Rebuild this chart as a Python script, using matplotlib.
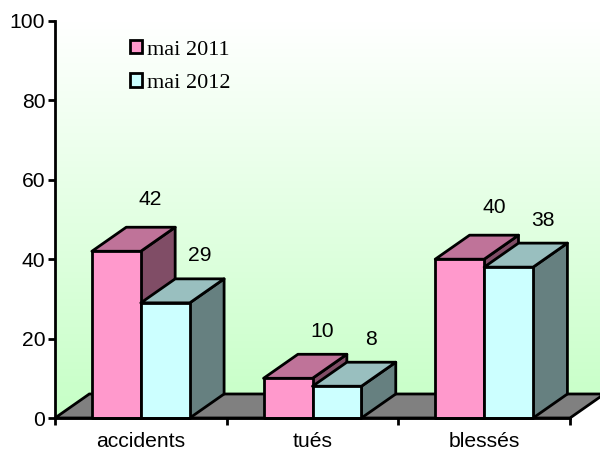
#!/usr/bin/env python

import numpy as np
import matplotlib
matplotlib.use('Agg')
import matplotlib.pyplot as plt
from matplotlib.colors import LinearSegmentedColormap
from matplotlib.patches import Polygon, Patch

categories = ['accidents', 'tués', 'blessés']
mai_2011 = [42, 10, 40]
mai_2012 = [29, 8, 38]
series_names = ['mai 2011', 'mai 2012']
y_ticks = [0, 20, 40, 60, 80, 100]

BAR_W = 0.285
DX = 0.2   # profondeur 3D, unites x
DY = 6.05  # profondeur 3D, unites y
LW = 2.0
FS = 15.2

plt.rcParams['font.family'] = ['Liberation Sans', 'DejaVu Sans']

fig = plt.figure(figsize=(6, 4.5), dpi=100, facecolor='white')
ax = fig.add_axes([55 / 600, 1 - 418 / 450, 515 / 600, 397 / 450])


def face(points, color, z):
    ax.add_patch(Polygon(points, closed=True, facecolor=color, edgecolor='black',
                         linewidth=LW, joinstyle='round', clip_on=False, zorder=z))


def bar3d(x, h, front, top, side, z):
    face([(x + BAR_W, 0), (x + BAR_W + DX, DY), (x + BAR_W + DX, h + DY), (x + BAR_W, h)], side, z)
    face([(x, h), (x + DX, h + DY), (x + BAR_W + DX, h + DY), (x + BAR_W, h)], top, z)
    face([(x, 0), (x + BAR_W, 0), (x + BAR_W, h), (x, h)], front, z)


# fond degrade, coupe le long du bord gauche du sol
cmap = LinearSegmentedColormap.from_list('fond', ['#c6ffc6', '#ffffff'])
im = ax.imshow(np.linspace(0, 1, 256).reshape(-1, 1), cmap=cmap, origin='lower', aspect='auto',
               extent=(0, 3 + DX, 0, 100), zorder=0)
ax.set_xlim(0, 3)
ax.set_ylim(0, 100)
wall = Polygon([(0, 0), (0, 100), (3 + DX, 100), (3 + DX, DY), (DX, DY)], closed=True,
               transform=ax.transData, facecolor='none', edgecolor='none', clip_on=False)
ax.add_patch(wall)
im.set_clip_box(fig.bbox)
im.set_clip_path(wall)

# sol
ax.add_patch(Polygon([(0, 0), (DX, DY), (3 + DX, DY), (3, 0)], closed=True, facecolor='#808080',
                     edgecolor='black', linewidth=LW, clip_on=False, zorder=1))

# decalage vertical des etiquettes, en pixels
pad_2011 = [52, 47, 52]
pad_2012 = [47, 47, 47]

for i in range(len(categories)):
    c = i + 0.5
    bar3d(c - BAR_W, mai_2011[i], '#ff99cc', '#bf7399', '#804d66', 3)
    bar3d(c, mai_2012[i], '#ccffff', '#99bfbf', '#668080', 4)
    ax.annotate(str(mai_2011[i]), (c - BAR_W / 2 + DX, mai_2011[i]), xytext=(0, pad_2011[i] * 0.72),
                textcoords='offset points', ha='center', va='center', fontsize=FS, zorder=6)
    ax.annotate(str(mai_2012[i]), (c + BAR_W / 2 + DX, mai_2012[i]), xytext=(0, pad_2012[i] * 0.72),
                textcoords='offset points', ha='center', va='center', fontsize=FS, zorder=6)

for s in ['top', 'right']:
    ax.spines[s].set_visible(False)
for s in ['left', 'bottom']:
    ax.spines[s].set_linewidth(LW)
    ax.spines[s].set_zorder(5)

ax.set_yticks(y_ticks)
ax.set_xticks([0, 1, 2, 3])
ax.set_xticklabels([])
ax.set_xticks([i + 0.5 for i in range(len(categories))], minor=True)
ax.set_xticklabels(categories, minor=True)
ax.tick_params(axis='both', which='major', length=5, width=LW, labelsize=FS, pad=2)
ax.tick_params(axis='x', which='minor', length=0, labelsize=FS, pad=10)

handles = [Patch(facecolor='#ff99cc', edgecolor='black', linewidth=LW, label=series_names[0]),
           Patch(facecolor='#ccffff', edgecolor='black', linewidth=LW, label=series_names[1])]
leg = ax.legend(handles=handles, loc='upper left', bbox_to_anchor=(75 / 515, 1 - 19 / 397), frameon=False,
                prop={'family': 'Liberation Serif', 'size': 16}, handlelength=0.55, handleheight=0.55,
                handletextpad=0.22, labelspacing=0.62, borderpad=0, borderaxespad=0)

fig.savefig('out.png', dpi=100)
